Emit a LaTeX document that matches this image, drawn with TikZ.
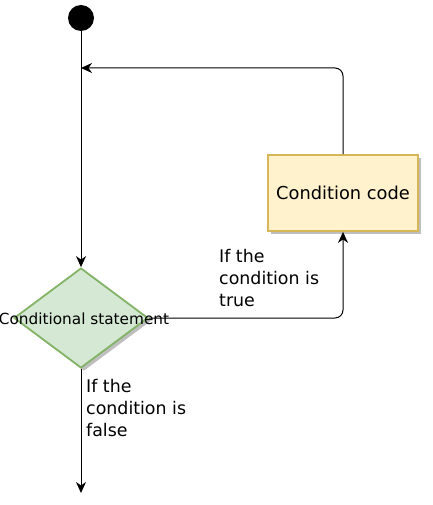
\documentclass[tikz,border=0pt]{standalone}
\usepackage{fontspec}
\setmainfont{DejaVu Sans}
\usetikzlibrary{arrows.meta, shapes.geometric, shadows}
\definecolor{condfill}{HTML}{D5E8D4}
\definecolor{conddraw}{HTML}{82B366}
\definecolor{codefill}{HTML}{FFF2CC}
\definecolor{codedraw}{HTML}{D6B656}

\begin{document}
\begin{tikzpicture}[x=1pt, y=-1pt,
  flow/.style={draw=black, line width=1pt, -{Stealth[length=11pt, width=10pt, inset=3.5pt]}, rounded corners=8pt},
  codebox/.style={draw=codedraw, line width=1.8pt, fill=codefill, minimum width=150pt,
              minimum height=76pt, font=\fontsize{17.8}{22}\selectfont,
              drop shadow={shadow xshift=3pt, shadow yshift=-3pt, fill=black!25, opacity=1}},
  decision/.style={diamond, draw=conddraw, line width=1.8pt, fill=condfill, inner sep=0pt,
              minimum width=134pt, minimum height=100pt,
              drop shadow={shadow xshift=3pt, shadow yshift=-3pt, fill=black!25, opacity=1}},
  note/.style={font=\fontsize{17.4}{22}\selectfont, align=left, anchor=west, inner sep=0pt},
]
  \useasboundingbox (0,0) rectangle (432,505);
  \node[circle, fill=black, minimum size=26pt, inner sep=0pt] (start) at (81,18) {};
  \node[decision] (cond) at (81,318) {};
  \node[font=\fontsize{15.3}{18}\selectfont, inner sep=0pt] (condtext) at (84,319) {Conditional statement};
  \node[codebox] (code) at (343,193) {\raisebox{-2pt}{Condition code}};
  \coordinate (merge) at (81,68);
  \coordinate (stop) at (81,493);
  \draw[flow] (start) -- (cond.north);
  \draw[flow] (cond.east) -| (code.south);
  \draw[flow] (code.north) |- (merge);
  \draw[flow] (cond.south) -- (stop);
  \node[note] (truelbl) at (219,278) {If the\\condition is\\true};
  \node[note] (falselbl) at (86,408) {If the\\condition is\\false};
\end{tikzpicture}
\end{document}
